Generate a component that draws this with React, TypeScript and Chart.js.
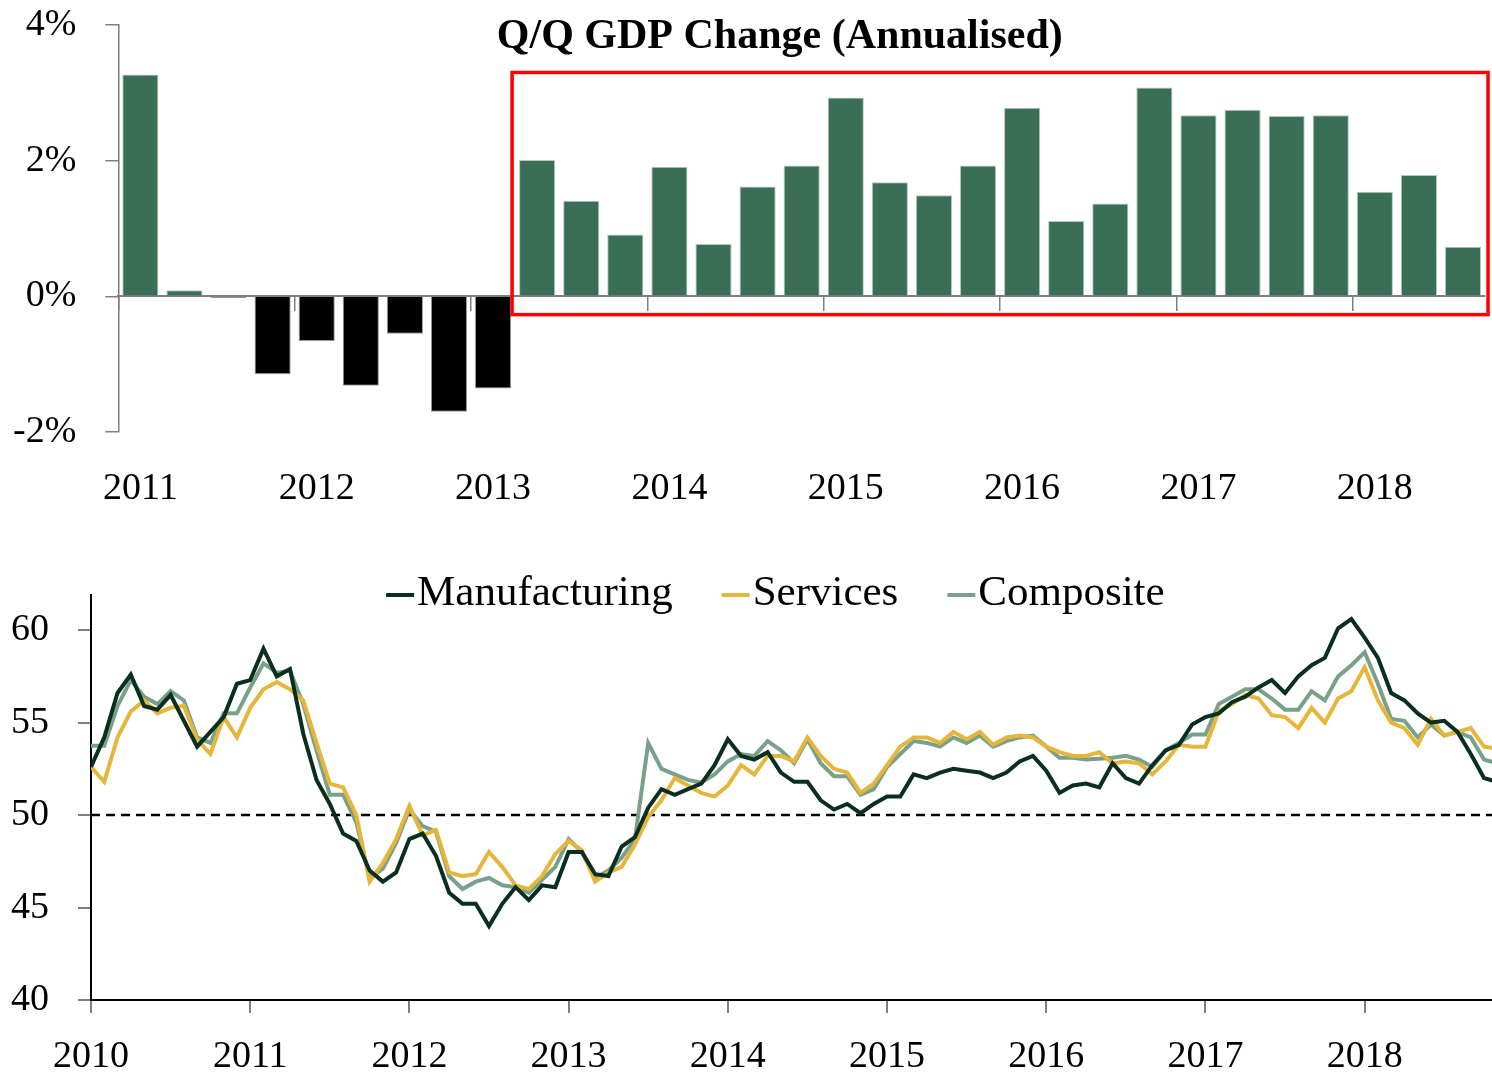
import React, { useEffect, useRef } from 'react';
import { Chart, registerables } from 'chart.js';

Chart.register(...registerables);

// ---------- Top chart data: Q/Q GDP change (annualised), % ----------
const QUARTERS = [
  '2011 Q1', '2011 Q2', '2011 Q3', '2011 Q4',
  '2012 Q1', '2012 Q2', '2012 Q3', '2012 Q4',
  '2013 Q1', '2013 Q2', '2013 Q3', '2013 Q4',
  '2014 Q1', '2014 Q2', '2014 Q3', '2014 Q4',
  '2015 Q1', '2015 Q2', '2015 Q3', '2015 Q4',
  '2016 Q1', '2016 Q2', '2016 Q3', '2016 Q4',
  '2017 Q1', '2017 Q2', '2017 Q3', '2017 Q4',
  '2018 Q1', '2018 Q2', '2018 Q3',
];
const GDP_QQ = [
  3.27, 0.09, -0.02, -1.15,
  -0.66, -1.32, -0.55, -1.70,
  -1.36, 2.01, 1.41, 0.91,
  1.91, 0.77, 1.62, 1.93,
  2.93, 1.68, 1.49, 1.93,
  2.78, 1.11, 1.37, 3.08,
  2.67, 2.75, 2.66, 2.67,
  1.54, 1.79, 0.73,
];
const GDP_TITLE = 'Q/Q GDP Change (Annualised)';
const GDP_Y_TICKS = [-2, 0, 2, 4];
const HIGHLIGHT_FROM = '2013 Q2';
const HIGHLIGHT_TOP = 3.3;
const HIGHLIGHT_BOTTOM = -0.27;

// ---------- Bottom chart data: PMIs, monthly from Jan 2010 ----------
const YEAR_TICKS = ['2010', '2011', '2012', '2013', '2014', '2015', '2016', '2017', '2018'];
const PMI_Y_TICKS = [40, 45, 50, 55, 60];
const MONTHS_PER_YEAR = 12;
const X_MAX_MONTH = 105.6;
const THRESHOLD = 50;

const MANUFACTURING = [
  52.6, 54.2, 56.6, 57.6, 55.9, 55.7, 56.5, 55.1, 53.7, 54.5, 55.3, 57.1,
  57.3, 59.0, 57.5, 57.9, 54.4, 51.9, 50.6, 49.0, 48.6, 47.0, 46.4, 46.9,
  48.7, 49.0, 47.8, 45.8, 45.2, 45.2, 44.0, 45.2, 46.1, 45.4, 46.2, 46.1,
  48.0, 48.0, 46.8, 46.7, 48.3, 48.8, 50.4, 51.4, 51.1, 51.4, 51.7, 52.7,
  54.1, 53.2, 53.0, 53.4, 52.3, 51.8, 51.8, 50.8, 50.3, 50.6, 50.1, 50.6,
  51.0, 51.0, 52.2, 52.0, 52.3, 52.5, 52.4, 52.3, 52.0, 52.3, 52.9, 53.2,
  52.4, 51.2, 51.6, 51.7, 51.5, 52.8, 52.0, 51.7, 52.7, 53.5, 53.8, 54.9,
  55.3, 55.5, 56.1, 56.4, 56.9, 57.3, 56.6, 57.5, 58.1, 58.5, 60.1, 60.6,
  59.6, 58.5, 56.6, 56.2, 55.5, 55.0, 55.1, 54.5, 53.3, 52.0, 51.8,
];
const SERVICES = [
  52.6, 51.8, 54.2, 55.6, 56.2, 55.5, 55.8, 55.9, 54.1, 53.3, 55.3, 54.2,
  55.8, 56.8, 57.2, 56.8, 56.2, 53.9, 51.7, 51.5, 50.0, 46.4, 47.4, 48.7,
  50.5, 48.9, 49.2, 46.9, 46.7, 46.8, 48.0, 47.2, 46.2, 46.0, 46.7, 47.9,
  48.6, 48.1, 46.4, 46.9, 47.2, 48.4, 49.9, 50.8, 52.0, 51.6, 51.2, 51.0,
  51.6, 52.7, 52.2, 53.2, 53.2, 52.9, 54.2, 53.2, 52.5, 52.3, 51.2, 51.7,
  52.7, 53.7, 54.2, 54.2, 53.9, 54.5, 54.1, 54.5, 53.8, 54.2, 54.3, 54.2,
  53.7, 53.4, 53.2, 53.2, 53.4, 52.8, 52.9, 52.8, 52.2, 52.9, 53.8, 53.7,
  53.7, 55.6, 56.0, 56.5, 56.3, 55.4, 55.3, 54.7, 55.8, 55.0, 56.3, 56.7,
  58.0, 56.2, 55.0, 54.7, 53.8, 55.2, 54.3, 54.5, 54.7, 53.7, 53.6,
];
const COMPOSITE = [
  53.75, 53.75, 55.9, 57.3, 56.4, 56.0, 56.7, 56.2, 54.2, 53.9, 55.5, 55.5,
  56.9, 58.2, 57.7, 57.8, 56.0, 53.5, 51.1, 51.1, 49.6, 46.6, 47.1, 48.5,
  50.3, 49.4, 49.1, 46.7, 46.0, 46.4, 46.6, 46.2, 46.1, 45.8, 46.5, 47.2,
  48.7, 48.0, 46.6, 47.0, 47.7, 48.7, 53.9, 52.5, 52.2, 51.9, 51.75, 52.2,
  52.9, 53.3, 53.2, 54.0, 53.5, 52.8, 54.1, 52.8, 52.1, 52.1, 51.1, 51.4,
  52.6, 53.3, 54.0, 53.9, 53.7, 54.2, 53.9, 54.3, 53.7, 54.0, 54.2, 54.3,
  53.7, 53.1, 53.1, 53.0, 53.05, 53.1, 53.2, 53.0, 52.6, 53.5, 53.9, 54.35,
  54.35, 56.0, 56.4, 56.8, 56.8, 56.3, 55.7, 55.7, 56.7, 56.2, 57.5, 58.1,
  58.8, 57.1, 55.2, 55.1, 54.2, 54.9, 54.3, 54.5, 54.2, 53.0, 52.8,
];
const SERIES_LABELS = ['Manufacturing', 'Services', 'Composite'];

// ---------- Styles ----------
const FONT = '"Liberation Serif", "Times New Roman", serif';
const GREEN = '#3b6e57';
const NEGATIVE = '#000000';
const AXIS_GREY = '#7f7f7f';
const MFG_COLOR = '#0b2f1f';
const SERV_COLOR = '#e6b63a';
const COMP_COLOR = '#79a189';

Chart.defaults.font.family = FONT;
Chart.defaults.color = '#000';

const titlePlugin = {
  id: 'gdpTitle',
  afterDraw(chart: any) {
    const { ctx, chartArea } = chart;
    ctx.save();
    ctx.font = `bold 42px ${FONT}`;
    ctx.fillStyle = '#000';
    ctx.textAlign = 'center';
    ctx.textBaseline = 'alphabetic';
    const cx = chartArea.left + (chartArea.right - chartArea.left) * 0.484;
    ctx.fillText(GDP_TITLE, cx, chartArea.top + 23);
    ctx.restore();
  },
};

const highlightPlugin = {
  id: 'highlightBox',
  afterDatasetsDraw(chart: any) {
    const { ctx, chartArea, scales } = chart;
    const xs = scales.x;
    const ys = scales.y;
    const idx = QUARTERS.indexOf(HIGHLIGHT_FROM);
    const cat = (chartArea.right - chartArea.left) / QUARTERS.length;
    const left = xs.getPixelForValue(idx) - cat / 2 - 3;
    const right = chartArea.right + 3;
    const top = ys.getPixelForValue(HIGHLIGHT_TOP);
    const bottom = ys.getPixelForValue(HIGHLIGHT_BOTTOM);
    ctx.save();
    ctx.strokeStyle = '#ff0000';
    ctx.lineWidth = 3.5;
    ctx.strokeRect(left, top, right - left, bottom - top);
    ctx.restore();
  },
};

const thresholdPlugin = {
  id: 'threshold',
  beforeDatasetsDraw(chart: any) {
    const { ctx, chartArea, scales } = chart;
    const y = scales.y.getPixelForValue(THRESHOLD);
    ctx.save();
    ctx.strokeStyle = '#000';
    ctx.lineWidth = 2.5;
    ctx.setLineDash([9, 6]);
    ctx.beginPath();
    ctx.moveTo(chartArea.left, y);
    ctx.lineTo(chartArea.right, y);
    ctx.stroke();
    ctx.restore();
  },
};

const legendPlugin = {
  id: 'pmiLegend',
  afterDraw(chart: any) {
    const { ctx, chartArea } = chart;
    const marker = 28;
    const gap = 3;
    const spacing = 49;
    ctx.save();
    ctx.font = `43px ${FONT}`;
    const items = chart.data.datasets.map((d: any) => ({
      label: d.label,
      color: d.borderColor,
      w: ctx.measureText(d.label).width,
    }));
    const total =
      items.reduce((s: number, it: any) => s + marker + gap + it.w, 0) + spacing * (items.length - 1);
    const center = chartArea.left + (chartArea.right - chartArea.left) * 0.4885;
    let x = center - total / 2;
    const yLine = chartArea.top;
    const yText = chartArea.top + 10;
    items.forEach((it: any) => {
      ctx.strokeStyle = it.color;
      ctx.lineWidth = 4;
      ctx.beginPath();
      ctx.moveTo(x, yLine);
      ctx.lineTo(x + marker, yLine);
      ctx.stroke();
      ctx.fillStyle = '#000';
      ctx.textAlign = 'left';
      ctx.textBaseline = 'alphabetic';
      ctx.fillText(it.label, x + marker + gap, yText);
      x += marker + gap + it.w + spacing;
    });
    ctx.restore();
  },
};

// Canvas placement (chart.js adds tick padding twice and half-label overflow)
const TOP_CANVAS = { left: -16, top: -23, width: 1517, height: 569 };
const BOTTOM_CANVAS = { left: -18, top: 547, width: 1510, height: 554 };

function GdpChart() {
  const ref = useRef<HTMLCanvasElement | null>(null);
  useEffect(() => {
    if (!ref.current) return;
    const chart = new Chart(ref.current, {
      type: 'bar',
      data: {
        labels: QUARTERS,
        datasets: [
          {
            data: GDP_QQ,
            backgroundColor: GDP_QQ.map((v) => (v >= 0 ? GREEN : NEGATIVE)),
            borderColor: GDP_QQ.map((v) => (v >= 0 ? '#b3c9bd' : '#9a9a9a')),
            borderWidth: 1,
            barPercentage: 0.82,
            categoryPercentage: 1,
          },
        ],
      },
      options: {
        responsive: false,
        animation: false,
        layout: { padding: { top: 0, left: 0, right: 0, bottom: 0 } },
        plugins: { legend: { display: false }, tooltip: { enabled: false }, title: { display: false } },
        scales: {
          x: {
            type: 'category',
            position: 'bottom',
            offset: true,
            grid: { display: false, drawTicks: false },
            border: { display: false },
            ticks: {
              autoSkip: false,
              maxRotation: 0,
              padding: 38,
              font: { size: 38, lineHeight: 1 },
              callback: (_v: any, i: number) => (i % 4 === 0 ? QUARTERS[i].slice(0, 4) : ''),
            },
          },
          x0: {
            type: 'category',
            position: { y: 0 },
            offset: true,
            z: 1,
            grid: {
              offset: true,
              drawOnChartArea: false,
              drawTicks: true,
              tickLength: 14,
              lineWidth: 1.5,
              color: (c: any) => (c.index !== undefined && c.index % 4 === 0 ? AXIS_GREY : 'rgba(0,0,0,0)'),
            },
            border: { display: true, color: AXIS_GREY, width: 2 },
            ticks: { display: false, autoSkip: false },
          },
          y: {
            min: -2,
            max: 4,
            afterBuildTicks: (s: any) => {
              s.ticks = GDP_Y_TICKS.map((v) => ({ value: v }));
            },
            ticks: {
              padding: 29,
              font: { size: 38, lineHeight: 1 },
              callback: (v: any) => `${v}%`,
            },
            grid: { drawOnChartArea: false, tickLength: 13, color: AXIS_GREY, lineWidth: 1.5 },
            border: { color: AXIS_GREY, width: 1.5 },
          },
        },
      } as any,
      plugins: [titlePlugin, highlightPlugin],
    });
    return () => chart.destroy();
  }, []);
  return (
    <canvas
      ref={ref}
      width={TOP_CANVAS.width}
      height={TOP_CANVAS.height}
      style={{ position: 'absolute', ...TOP_CANVAS }}
    />
  );
}

function PmiChart() {
  const ref = useRef<HTMLCanvasElement | null>(null);
  useEffect(() => {
    if (!ref.current) return;
    const toPoints = (arr: number[]) => arr.map((y, i) => ({ x: i, y }));
    const chart = new Chart(ref.current, {
      type: 'line',
      data: {
        datasets: [
          { label: SERIES_LABELS[0], data: toPoints(MANUFACTURING), borderColor: MFG_COLOR, borderWidth: 4, pointRadius: 0, tension: 0 },
          { label: SERIES_LABELS[1], data: toPoints(SERVICES), borderColor: SERV_COLOR, borderWidth: 4, pointRadius: 0, tension: 0 },
          { label: SERIES_LABELS[2], data: toPoints(COMPOSITE), borderColor: COMP_COLOR, borderWidth: 4, pointRadius: 0, tension: 0 },
        ],
      },
      options: {
        responsive: false,
        animation: false,
        layout: { padding: { top: 0, left: 0, right: 0, bottom: 0 } },
        plugins: { legend: { display: false }, tooltip: { enabled: false } },
        scales: {
          x: {
            type: 'linear',
            min: 0,
            max: X_MAX_MONTH,
            afterBuildTicks: (s: any) => {
              s.ticks = YEAR_TICKS.map((_, k) => ({ value: k * MONTHS_PER_YEAR }));
            },
            ticks: {
              autoSkip: false,
              maxRotation: 0,
              padding: 25,
              font: { size: 38, lineHeight: 1 },
              callback: (v: any) => YEAR_TICKS[Math.round(v / MONTHS_PER_YEAR)],
            },
            grid: { drawOnChartArea: false, tickLength: 13, color: AXIS_GREY, lineWidth: 2 },
            border: { color: '#000', width: 2 },
          },
          y: {
            min: 40,
            max: 61.9,
            afterBuildTicks: (s: any) => {
              s.ticks = PMI_Y_TICKS.map((v) => ({ value: v }));
            },
            ticks: { padding: 29, font: { size: 38, lineHeight: 1 } },
            grid: { drawOnChartArea: false, tickLength: 13, color: AXIS_GREY, lineWidth: 2 },
            border: { color: '#000', width: 2 },
          },
        },
      } as any,
      plugins: [thresholdPlugin, legendPlugin],
    });
    return () => chart.destroy();
  }, []);
  return (
    <canvas
      ref={ref}
      width={BOTTOM_CANVAS.width}
      height={BOTTOM_CANVAS.height}
      style={{ position: 'absolute', ...BOTTOM_CANVAS }}
    />
  );
}

export default function App() {
  return (
    <div
      style={{
        position: 'absolute',
        left: 0,
        top: 0,
        width: 1492,
        height: 1076,
        background: '#fff',
        overflow: 'hidden',
      }}
    >
      <GdpChart />
      <PmiChart />
    </div>
  );
}
